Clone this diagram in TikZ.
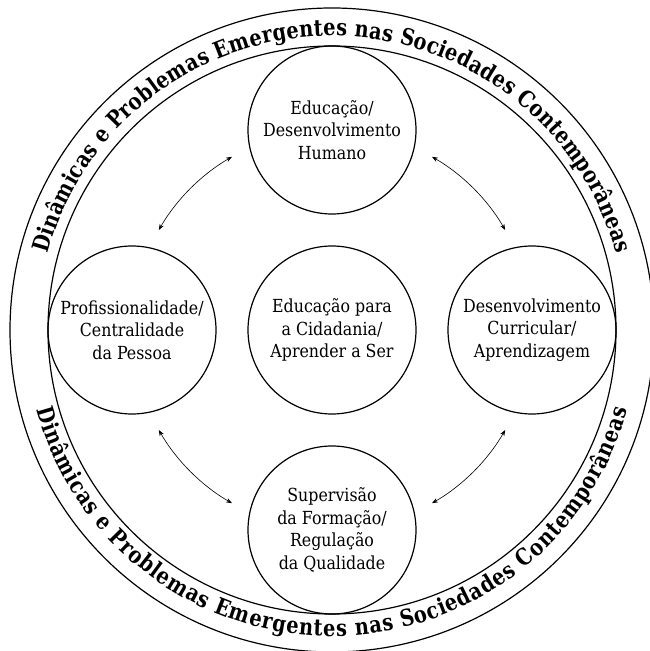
\documentclass[tikz,border=0pt]{standalone}
\usepackage{fontspec}
\setmainfont{DejaVu Serif}[FakeStretch=0.88]
\newfontfamily\ringfont{DejaVu Serif}[FakeStretch=0.84]
\usetikzlibrary{decorations.text,arrows.meta}
\begin{document}
\begin{tikzpicture}[x=1pt,y=1pt,
  ringline/.style={line width=1.2pt},
  topic/.style={circle, draw, line width=1.2pt, minimum size=168pt, inner sep=0pt,
    align=center, font=\fontsize{18}{22.5}\selectfont},
  arr/.style={{Stealth[length=6pt,width=4.5pt]}-{Stealth[length=6pt,width=4.5pt]}, line width=0.6pt}]
\useasboundingbox (0,0) rectangle (649,651);
\node[topic] (C) at (332,321) {Educação para\\a Cidadania/\\Aprender a Ser};
\node[topic] (T) at (332,521) {Educação/\\Desenvolvimento\\Humano};
\node[topic] (L) at (132,321) {Profissionalidade/\\Centralidade\\da Pessoa};
\node[topic] (R) at (532,321) {Desenvolvimento\\Curricular/\\Aprendizagem};
\node[topic] (B) at (332,121) {Supervisão\\da Formação/\\Regulação\\da Qualidade};
\draw[ringline] (C.center) circle[radius=284];
\draw[ringline] (C.center) circle[radius=322];
\draw[arr] ([shift={(120:200)}]C.center) arc[start angle=120, end angle=150, radius=200];
\draw[arr] ([shift={(30:200)}]C.center) arc[start angle=30, end angle=60, radius=200];
\draw[arr] ([shift={(210:200)}]C.center) arc[start angle=210, end angle=240, radius=200];
\draw[arr] ([shift={(300:200)}]C.center) arc[start angle=300, end angle=330, radius=200];
\path[decorate, decoration={text along path, text align={fit to path},
  text={|\ringfont\bfseries\fontsize{23}{23}\selectfont|Dinâmicas e Problemas Emergentes nas Sociedades Contemporâneas}}]
  ([shift={(165:294)}]C.center) arc[start angle=165, end angle=15, radius=294];
\path[decorate, decoration={text along path, text align={fit to path},
  text={|\ringfont\bfseries\fontsize{23}{23}\selectfont|Dinâmicas e Problemas Emergentes nas Sociedades Contemporâneas}}]
  ([shift={(195:306)}]C.center) arc[start angle=195, end angle=345, radius=306];
\end{tikzpicture}
\end{document}
